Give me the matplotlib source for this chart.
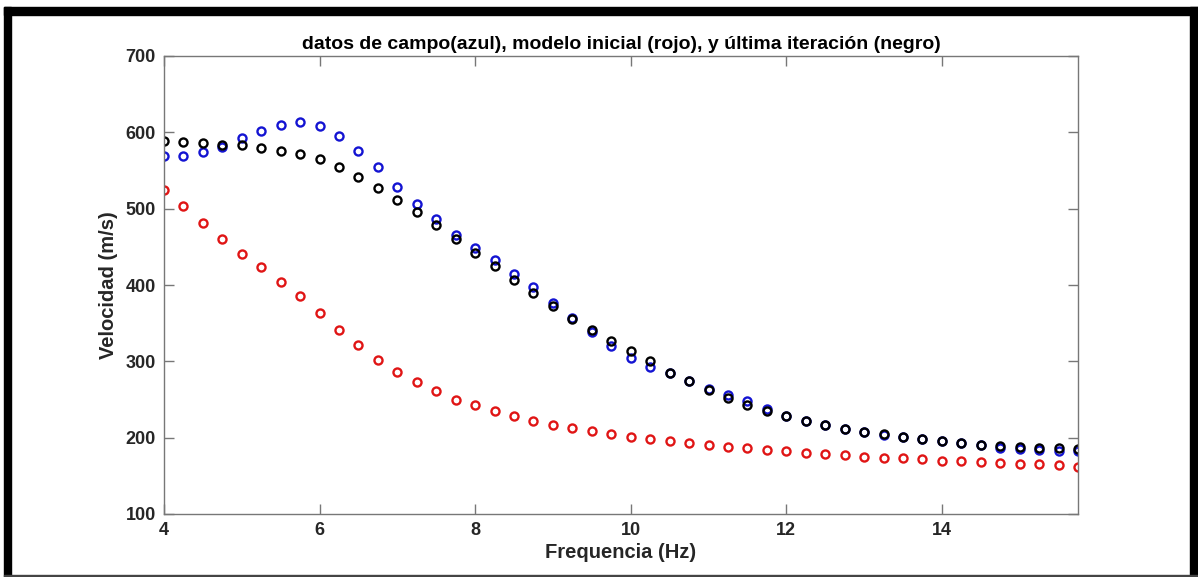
import numpy as np
import matplotlib
matplotlib.use("Agg")
import matplotlib.pyplot as plt
from matplotlib.patches import Rectangle

plt.rcParams['font.family'] = ['Liberation Sans', 'DejaVu Sans']

# frecuencias (Hz)
freq = np.arange(4, 15.76, 0.25)

# datos de campo (azul)
campo = [569, 569, 574, 581, 592, 602, 610, 613, 608, 595, 576, 554,
         529, 506, 486, 466, 449, 433, 415, 397, 377, 357, 338, 320,
         305, 293, 285, 274, 264, 256, 248, 238, 229, 222, 216, 212,
         207, 204, 201, 198, 196, 193, 190, 187, 185, 184, 183, 182]

# modelo inicial (rojo)
inicial = [525, 503, 481, 460, 441, 423, 404, 385, 363, 341, 321, 302,
           286, 273, 261, 250, 243, 235, 228, 222, 217, 213, 209, 205,
           201, 198, 195, 193, 190, 188, 186, 184, 182, 180, 179, 177,
           175, 174, 173, 172, 170, 169, 168, 167, 166, 165, 164, 162]

# ultima iteracion (negro)
final = [588, 587, 586, 584, 583, 580, 576, 572, 565, 554, 542, 527,
         511, 495, 478, 460, 442, 425, 407, 389, 372, 356, 341, 327,
         313, 300, 285, 274, 263, 252, 243, 235, 229, 222, 217, 212,
         208, 205, 201, 198, 196, 193, 190, 189, 188, 187, 186, 185]

fig = plt.figure(figsize=(11.98, 5.77), dpi=100)
ax = fig.add_axes([164 / 1198, 63 / 577, 914 / 1198, 458 / 577])

mk = dict(linestyle='none', marker='o', markersize=5.8, markeredgewidth=1.7,
          markerfacecolor='none')
ax.plot(freq, campo, color='#1414d2', **mk)
ax.plot(freq, inicial, color='#e01515', **mk)
ax.plot(freq, final, color='black', **mk)

ax.set_xlim(4, 15.75)
ax.set_ylim(100, 700)
ax.set_xticks([4, 6, 8, 10, 12, 14])
ax.set_yticks([100, 200, 300, 400, 500, 600, 700])
ax.tick_params(direction='in', length=7, width=1, colors='#777777',
               labelcolor='#262626', labelsize=13, top=True, right=True, pad=6)
for lab in ax.get_xticklabels() + ax.get_yticklabels():
    lab.set_fontweight('bold')
for sp in ax.spines.values():
    sp.set_color('#777777')
    sp.set_linewidth(1)

ax.set_title('datos de campo(azul), modelo inicial (rojo), y última iteración (negro)',
             fontsize=14, fontweight='bold', color='black', pad=5)
ax.set_xlabel('Frequencia (Hz)', fontsize=14.5, fontweight='bold', color='#262626', labelpad=3)
ax.set_ylabel('Velocidad (m/s)', fontsize=14.5, fontweight='bold', color='#262626', labelpad=5)

# marco negro alrededor de la figura
W, H = 1198, 577
fig.patches.append(Rectangle((4 / W, 0), 7 / W, 1 - 7 / H, transform=fig.transFigure,
                             color='black', zorder=10))
fig.patches.append(Rectangle((4 / W, 1 - 15 / H), 1 - 4 / W, 8 / H, transform=fig.transFigure,
                             color='black', zorder=10))
fig.patches.append(Rectangle((1190 / W, 0), 8 / W, 1 - 7 / H, transform=fig.transFigure,
                             color='black', zorder=10))
fig.patches.append(Rectangle((4 / W, 1 / H), 1 - 4 / W, 1.5 / H, transform=fig.transFigure,
                             color='#444444', zorder=10))

fig.savefig('out.png', dpi=100)
